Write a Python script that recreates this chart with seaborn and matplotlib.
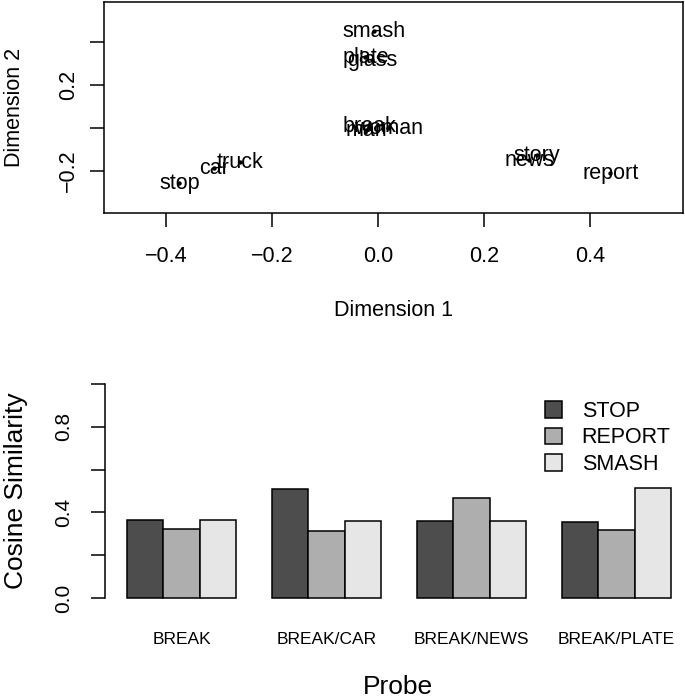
import numpy as np
import pandas as pd
import seaborn as sns
from matplotlib import pyplot as plt
from matplotlib.patches import Patch

# word positions in the 2-d scaling solution
words = ['smash', 'plate', 'glass', 'break', 'woman', 'man',
         'truck', 'car', 'stop', 'story', 'news', 'report']
dim1 = [-0.008, -0.024, -0.011, -0.017, 0.019, -0.023,
        -0.260, -0.309, -0.375, 0.300, 0.285, 0.438]
dim2 = [0.451, 0.330, 0.316, 0.005, 0.000, -0.010,
        -0.158, -0.186, -0.256, -0.126, -0.149, -0.209]

# cosine similarity of each probe to the three targets
probes = ['BREAK', 'BREAK/CAR', 'BREAK/NEWS', 'BREAK/PLATE']
stop_sim = [0.363, 0.510, 0.358, 0.353]
report_sim = [0.322, 0.314, 0.468, 0.319]
smash_sim = [0.366, 0.358, 0.361, 0.512]
targets = ['STOP', 'REPORT', 'SMASH']
bar_colors = ['#4D4D4D', '#AEAEAE', '#E6E6E6']

sns.set_theme(style='ticks', rc={'axes.edgecolor': 'black', 'axes.linewidth': 1.1,
                                 'xtick.color': 'black', 'ytick.color': 'black',
                                 'text.color': 'black', 'axes.labelcolor': 'black'})
plt.rcParams['font.family'] = ['Liberation Sans', 'DejaVu Sans']

fig = plt.figure(figsize=(6.85, 7.0), dpi=100)

# ---- top panel: scaling solution
ax1 = fig.add_axes([0.1518, 0.6957, 0.8453, 0.3014])
sns.scatterplot(x=dim1, y=dim2, color='black', s=10, linewidth=0, ax=ax1)
for w, x, y in zip(words, dim1, dim2):
    ax1.text(x, y, w, ha='center', va='center', fontsize=15.5)
ax1.set_xlim(-0.517, 0.575)
ax1.set_ylim(-0.395, 0.586)
ax1.set_xticks([-0.4, -0.2, 0.0, 0.2, 0.4])
ax1.set_xticklabels(['\u22120.4', '\u22120.2', '0.0', '0.2', '0.4'])
ax1.set_yticks([-0.2, 0.0, 0.2, 0.4])
ax1.set_yticklabels(['\u22120.2', '', '0.2', ''])
ax1.tick_params(axis='both', direction='out', length=10, width=1.1, labelsize=15.5)
ax1.tick_params(axis='x', pad=14)
ax1.tick_params(axis='y', pad=8, labelrotation=90)
for t in ax1.get_yticklabels():
    t.set_va('center')
for s in ax1.spines.values():
    s.set_visible(True)
ax1.set_xlabel('Dimension 1', fontsize=15.5)
ax1.set_ylabel('Dimension 2', fontsize=15.5)
ax1.xaxis.set_label_coords(0.5, -0.41)
ax1.yaxis.set_label_coords(-0.136, 0.5)

# ---- bottom panel: cosine similarities
df_bar = pd.DataFrame({'Probe': probes * 3,
                       'Target': np.repeat(targets, len(probes)),
                       'Similarity': stop_sim + report_sim + smash_sim})

ax2 = fig.add_axes([0.1533, 0.1334, 0.8467, 0.3303])
sns.barplot(data=df_bar, x='Probe', y='Similarity', hue='Target', hue_order=targets,
            palette=bar_colors, saturation=1, width=0.75, gap=0, edgecolor='black',
            linewidth=1.1, errorbar=None, legend=False, ax=ax2)
ax2.set_xlim(-0.5276, 3.472)
ax2.set_ylim(-0.04, 1.04)
ax2.set_yticks([0.0, 0.2, 0.4, 0.6, 0.8, 1.0])
ax2.set_yticklabels(['0.0', '', '0.4', '', '0.8', ''])
ax2.spines['left'].set_bounds(0, 1)
for side in ['top', 'right', 'bottom']:
    ax2.spines[side].set_visible(False)
ax2.tick_params(axis='y', direction='out', length=10, width=1.1, labelsize=15,
                pad=13, labelrotation=90)
for t in ax2.get_yticklabels():
    t.set_va('center')
ax2.tick_params(axis='x', length=0, labelsize=12.5, pad=18)
ax2.set_xlabel('Probe', fontsize=19)
ax2.set_ylabel('Cosine Similarity', fontsize=19)
ax2.xaxis.set_label_coords(0.505, -0.295)
ax2.yaxis.set_label_coords(-0.132, 0.5)

handles = [Patch(facecolor=c, edgecolor='black', linewidth=1.1) for c in bar_colors]
ax2.legend(handles, targets, loc='upper left', frameon=False, fontsize=15.5,
           bbox_to_anchor=(545 / 685, 1 - 401 / 700), bbox_transform=fig.transFigure,
           borderpad=0, borderaxespad=0, handlelength=0.8, handleheight=0.8,
           handletextpad=0.9, labelspacing=0.25)

fig.savefig('out.png', dpi=100)
